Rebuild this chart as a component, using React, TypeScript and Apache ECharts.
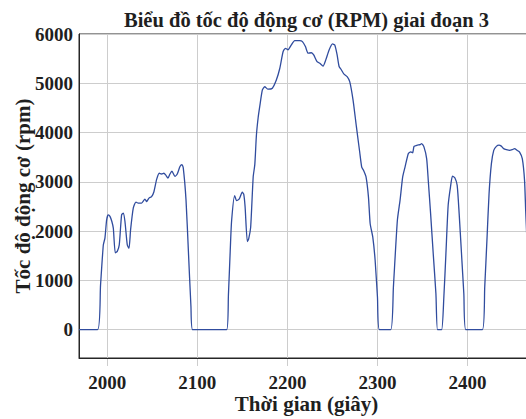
import React, { useEffect, useRef } from "react";
import * as echarts from "echarts";

const TITLE = "Biểu đồ tốc độ động cơ (RPM) giai đoạn 3";
const X_NAME = "Thời gian (giây)";
const Y_NAME = "Tốc độ động cơ (rpm)";

const X_MIN = 1968.6;
const X_MAX = 2473.8;
const Y_MIN = -736;
const Y_MAX = 6000;
const X_TICKS = [2000, 2100, 2200, 2300, 2400];
const Y_TICKS = [0, 1000, 2000, 3000, 4000, 5000, 6000];

const timeSec = [
  1968.6, 1989.2, 1992.5, 1995.6, 1997.4, 1999.3, 2001.1, 2003.0, 2005.0, 2006.7,
  2008.9, 2011.1, 2013.3, 2015.9, 2017.8, 2019.6, 2022.2, 2024.1, 2025.9, 2028.9,
  2031.8, 2034.4, 2038.1, 2041.8, 2043.7, 2046.3, 2049.2, 2051.8, 2054.8, 2057.7,
  2060.3, 2062.9, 2064.8, 2067.4, 2069.6, 2071.8, 2075.1, 2077.7, 2080.7, 2082.9,
  2084.4, 2087.4, 2090.0, 2092.9, 2094.8, 2132.5, 2134.5, 2136.5, 2138.0, 2141.4,
  2143.6, 2146.6, 2149.9, 2151.5, 2153.0, 2155.5, 2157.0, 2159.2, 2162.0, 2163.8,
  2165.6, 2167.5, 2169.3, 2172.2, 2174.8, 2178.5, 2183.3, 2187.8, 2191.5, 2195.2,
  2197.8, 2200.7, 2204.4, 2208.1, 2213.7, 2216.7, 2220.0, 2223.0, 2226.7, 2229.2,
  2232.9, 2235.9, 2239.6, 2242.6, 2246.3, 2250.0, 2252.6, 2255.2, 2257.4, 2260.0,
  2262.6, 2266.3, 2269.2, 2272.9, 2276.6, 2280.3, 2282.5, 2284.5, 2287.3, 2290.0,
  2291.9, 2294.8, 2297.4, 2300.0, 2302.2, 2314.7, 2317.7, 2322.1, 2325.1, 2328.0,
  2330.6, 2334.3, 2336.9, 2339.1, 2340.6, 2344.2, 2347.2, 2349.0, 2351.6, 2354.6,
  2356.4, 2359.0, 2361.9, 2364.9, 2366.7, 2371.2, 2373.7, 2376.0, 2378.5, 2381.1,
  2383.3, 2385.9, 2388.5, 2390.7, 2393.3, 2395.9, 2398.1, 2416.5, 2419.1, 2421.7,
  2423.9, 2426.5, 2429.1, 2432.0, 2434.9, 2437.5, 2440.1, 2443.1, 2446.8, 2449.7,
  2452.3, 2454.9, 2457.8, 2460.8, 2463.3, 2464.6, 2466.0,
];

const rpm = [
  0, 0, 900, 1720, 1860, 2230, 2330, 2300, 2200, 2060,
  1560, 1590, 1720, 2330, 2365, 2200, 1720, 1650, 2030, 2470,
  2590, 2570, 2570, 2650, 2600, 2670, 2700, 2800, 3050, 3175,
  3160, 3175, 3140, 3075, 3160, 3215, 3110, 3160, 3310, 3350,
  3280, 2640, 1620, 470, 0, 0, 700, 1600, 2200, 2720,
  2620, 2655, 2790, 2750, 2500, 1790, 1845, 2080, 3100, 3350,
  3950, 4300, 4530, 4865, 4930, 4880, 4900, 5070, 5300, 5640,
  5710, 5680, 5780, 5865, 5865, 5845, 5745, 5610, 5620, 5575,
  5440, 5405, 5350, 5475, 5675, 5800, 5775, 5575, 5340, 5270,
  5190, 5135, 5035, 4660, 4120, 3600, 3300, 3235, 3100, 2690,
  2150, 1880, 1410, 660, 0, 0, 870, 2220, 2630, 3100,
  3300, 3575, 3610, 3590, 3720, 3745, 3755, 3775, 3710, 3470,
  3030, 2355, 1545, 730, 0, 0, 660, 1545, 2525, 2900,
  3115, 3085, 2930, 2355, 1545, 730, 0, 0, 870, 1880,
  2760, 3370, 3640, 3720, 3745, 3725, 3675, 3655, 3640, 3655,
  3675, 3640, 3605, 3470, 3030, 2400, 1800,
];

const FONT = "'Liberation Serif', 'Times New Roman', serif";
const TEXT = "#1f1f1f";
const FRAME = "#262626";
const GRIDLINE = "#cdcdcd";
const LINE = "#304c9e";

export default function App() {
  const ref = useRef<HTMLDivElement>(null);

  useEffect(() => {
    if (!ref.current) return;
    const chart = echarts.init(ref.current, undefined, { renderer: "svg" });

    const plotLeft = 79;
    const plotTop = 34;
    const plotWidth = 455;
    const plotHeight = 332;
    const zeroHeight = (plotHeight * Y_MAX) / (Y_MAX - Y_MIN);
    const pxPerSec = plotWidth / (X_MAX - X_MIN);
    const xGridLeft = plotLeft + (X_TICKS[0] - X_MIN) * pxPerSec;
    const xGridWidth = (X_TICKS[X_TICKS.length - 1] - X_TICKS[0]) * pxPerSec;

    const plain = (v: number) => String(v);
    const tickLabel = {
      formatter: plain,
      fontFamily: FONT,
      fontWeight: "bold",
      fontSize: 19,
      color: TEXT,
    };

    chart.setOption({
      animation: false,
      backgroundColor: "#ffffff",
      textStyle: { fontFamily: FONT, color: TEXT },
      graphic: [
        {
          type: "text",
          x: plotLeft + plotWidth / 2,
          y: 20,
          style: {
            text: TITLE,
            fontFamily: FONT,
            fontWeight: "bold",
            fontSize: 20.5,
            fill: TEXT,
            textAlign: "center",
            textVerticalAlign: "middle",
          },
        },
      ],
      grid: [
        {
          left: plotLeft,
          top: plotTop,
          width: plotWidth,
          height: plotHeight,
          show: true,
          borderColor: FRAME,
          borderWidth: 1,
          backgroundColor: "transparent",
        },
        { left: plotLeft, top: plotTop, width: plotWidth, height: zeroHeight },
        { left: xGridLeft, top: plotTop, width: xGridWidth, height: plotHeight },
      ],
      xAxis: [
        {
          gridIndex: 0,
          type: "value",
          min: X_MIN,
          max: X_MAX,
          axisLine: { show: true, onZero: false, lineStyle: { color: FRAME, width: 1 } },
          axisTick: { show: false },
          axisLabel: { show: false },
          splitLine: { show: false },
          name: X_NAME,
          nameLocation: "middle",
          nameGap: 35,
          nameTextStyle: { fontFamily: FONT, fontWeight: "bold", fontSize: 21, color: TEXT },
        },
        {
          gridIndex: 1,
          type: "value",
          min: X_MIN,
          max: X_MAX,
          axisLine: { show: false, onZero: false },
          axisTick: { show: false },
          axisLabel: { show: false },
          splitLine: { show: false },
        },
        {
          gridIndex: 2,
          type: "value",
          min: X_TICKS[0],
          max: X_TICKS[X_TICKS.length - 1],
          interval: 100,
          axisLine: { show: false, onZero: false },
          axisTick: { show: false },
          axisLabel: { ...tickLabel, margin: 7 },
          splitLine: { show: true, lineStyle: { color: GRIDLINE, width: 1 } },
        },
      ],
      yAxis: [
        {
          gridIndex: 0,
          type: "value",
          min: Y_MIN,
          max: Y_MAX,
          axisLine: { show: true, onZero: false, lineStyle: { color: FRAME, width: 1 } },
          axisTick: { show: false },
          axisLabel: { show: false },
          splitLine: { show: false },
          name: Y_NAME,
          nameLocation: "middle",
          nameGap: 46,
          nameTextStyle: { fontFamily: FONT, fontWeight: "bold", fontSize: 21, color: TEXT },
        },
        {
          gridIndex: 1,
          type: "value",
          min: Y_TICKS[0],
          max: Y_TICKS[Y_TICKS.length - 1],
          interval: 1000,
          axisLine: { show: false, onZero: false },
          axisTick: { show: false },
          axisLabel: { ...tickLabel, margin: 6 },
          splitLine: { show: true, lineStyle: { color: GRIDLINE, width: 1 } },
        },
        {
          gridIndex: 2,
          type: "value",
          min: Y_MIN,
          max: Y_MAX,
          axisLine: { show: false, onZero: false },
          axisTick: { show: false },
          axisLabel: { show: false },
          splitLine: { show: false },
        },
      ],
      series: [
        {
          type: "line",
          xAxisIndex: 1,
          yAxisIndex: 1,
          data: timeSec.map((t, i) => [t, rpm[i]]),
          showSymbol: false,
          symbol: "none",
          smooth: 0.2,
          clip: false,
          lineStyle: { color: LINE, width: 1.3 },
          z: 5,
        },
      ],
    });

    return () => chart.dispose();
  }, []);

  return (
    <div
      style={{
        position: "fixed",
        left: 0,
        top: 0,
        width: 526,
        height: 419,
        overflow: "hidden",
        background: "#fff",
      }}
    >
      <div ref={ref} style={{ width: 545, height: 419 }} />
    </div>
  );
}
